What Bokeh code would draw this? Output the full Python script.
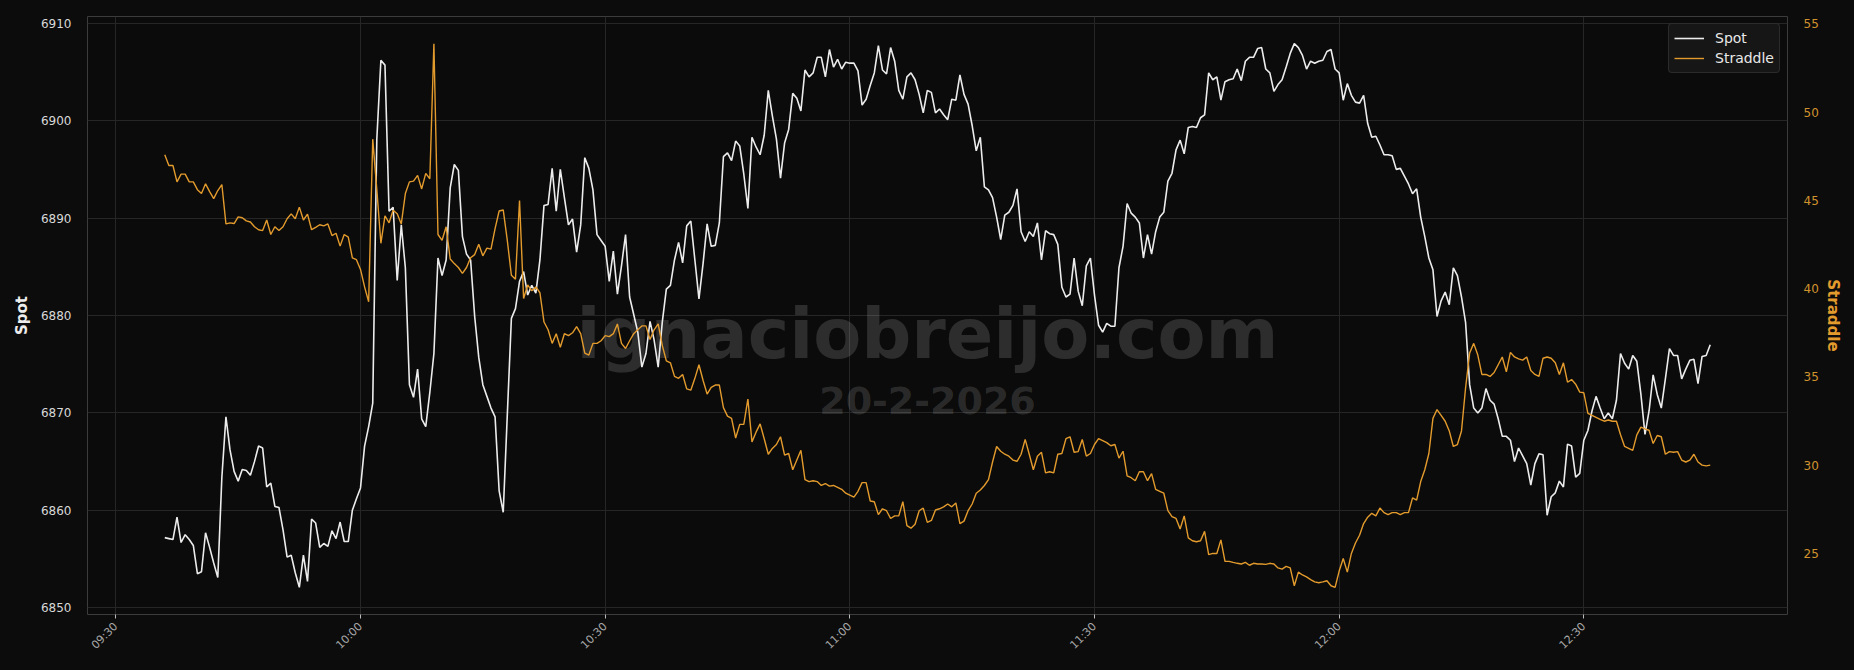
import math
import pandas as pd
from bokeh.plotting import figure
from bokeh.models import (Range1d, LinearAxis, FixedTicker, DatetimeTickFormatter,
                          Label, ColumnDataSource)
from bokeh.embed import file_html
from bokeh.resources import INLINE

# ---------------- data (30-second samples, 20-2-2026) ----------------
start_time = "2026-02-20 09:36:00"
step = "30s"

spot = [
    6857.2, 6857.1, 6857.0, 6859.3, 6856.7, 6857.5, 6857.0, 6856.4, 6853.5, 6853.7,
    6857.7, 6856.2, 6854.6, 6853.1, 6863.4, 6869.6, 6866.2, 6864.0, 6863.0, 6864.2,
    6864.1, 6863.6, 6865.0, 6866.6, 6866.4, 6862.4, 6862.8, 6860.4, 6860.3, 6858.0,
    6855.2, 6855.4, 6853.6, 6852.1, 6855.4, 6852.7, 6859.1, 6858.7, 6856.2, 6856.6,
    6856.3, 6857.9, 6857.1, 6858.8, 6856.8, 6856.8, 6860.0, 6861.2, 6862.3, 6866.6,
    6868.6, 6871.0, 6898.1, 6906.2, 6905.7, 6890.7, 6891.1, 6883.6, 6889.3, 6884.9,
    6872.9, 6871.6, 6874.5, 6869.4, 6868.6, 6872.1, 6876.1, 6885.9, 6884.1, 6885.7,
    6893.1, 6895.5, 6894.9, 6888.1, 6886.3, 6885.7, 6879.9, 6875.7, 6872.9, 6871.7,
    6870.5, 6869.6, 6862.0, 6859.8, 6869.8, 6879.7, 6880.7, 6883.5, 6884.5, 6882.1,
    6883.1, 6882.3, 6885.7, 6891.3, 6891.4, 6895.1, 6890.7, 6895.0, 6892.1, 6889.3,
    6889.9, 6886.5, 6889.3, 6896.2, 6895.1, 6892.9, 6888.3, 6887.7, 6887.1, 6883.5,
    6886.6, 6882.2, 6885.1, 6888.3, 6881.9, 6880.1, 6878.3, 6874.7, 6876.1, 6879.4,
    6877.5, 6874.7, 6879.3, 6882.7, 6883.1, 6885.7, 6887.5,
    6885.4, 6889.2, 6889.7, 6885.7, 6881.7, 6885.3, 6889.4, 6887.1, 6887.2, 6889.5,
    6896.3, 6896.7, 6895.9, 6897.9, 6897.4, 6894.5, 6891.0, 6898.3, 6897.3, 6896.5,
    6898.5, 6903.1, 6900.5, 6898.1, 6894.1, 6897.7, 6899.1, 6902.8, 6902.3, 6901.0,
    6905.2, 6904.5, 6904.9, 6906.5, 6906.5, 6904.5, 6907.3, 6905.5, 6906.3, 6905.3,
    6906.0, 6905.9, 6905.9, 6905.1, 6901.6, 6902.2, 6903.6, 6904.9, 6907.7, 6905.2,
    6904.8, 6907.5, 6906.1, 6903.1, 6902.2, 6904.5, 6904.9, 6904.2, 6902.7, 6900.8,
    6903.1, 6902.9, 6900.8, 6901.2,
    6900.6, 6900.1, 6902.2, 6902.1, 6904.7, 6902.7, 6901.7, 6899.5, 6896.9, 6898.3,
    6893.2, 6892.9, 6892.1, 6890.1, 6887.8, 6890.3, 6890.6, 6891.3, 6893.0, 6888.6,
    6887.6, 6888.6, 6888.1, 6889.5, 6885.7, 6888.7, 6888.4, 6888.3, 6887.3, 6882.9,
    6881.9, 6882.2, 6885.9, 6882.5, 6881.0, 6885.1, 6885.9, 6882.1, 6879.0, 6878.3,
    6879.2, 6878.9, 6878.9, 6884.9, 6887.1, 6891.5, 6890.5, 6890.1, 6889.5, 6885.9,
    6888.3, 6886.3, 6888.6, 6890.1, 6890.6, 6893.8, 6894.6, 6897.0, 6898.0, 6896.6,
    6899.3, 6899.4, 6899.3, 6900.3,
    6900.6, 6904.9, 6904.2, 6904.5, 6902.1, 6904.0, 6904.2, 6904.3, 6905.3, 6904.1,
    6906.1, 6906.5, 6906.5, 6907.4, 6907.5, 6905.3, 6904.9, 6903.0, 6903.7, 6904.2,
    6905.5, 6906.9, 6907.9, 6907.5, 6906.7, 6905.3, 6906.1, 6905.9, 6906.1, 6906.2,
    6907.1, 6907.3, 6905.3, 6904.9, 6902.1, 6903.8, 6902.6, 6901.9, 6901.8, 6902.6,
    6899.7, 6898.3, 6898.4, 6897.5, 6896.5, 6896.5, 6896.4, 6895.0, 6895.1, 6894.3,
    6893.5, 6892.5, 6893.0, 6890.1, 6888.1, 6885.9, 6884.7, 6879.9, 6881.5, 6882.4,
    6881.1, 6884.9, 6884.1, 6881.9,
    6879.3, 6872.9, 6870.5, 6870.0, 6870.5, 6872.5, 6871.3, 6870.9, 6869.4, 6867.6,
    6867.6, 6867.2, 6865.0, 6866.4, 6865.6, 6864.8, 6862.6, 6864.8, 6865.8, 6865.7,
    6859.5, 6861.4, 6861.8, 6863.0, 6862.4, 6866.8, 6866.6, 6863.4, 6863.8, 6867.2,
    6868.2, 6870.2, 6871.7, 6870.5, 6869.4, 6870.0, 6869.4, 6871.3, 6876.1, 6875.1,
    6874.5, 6875.9, 6875.3, 6871.9, 6867.8, 6870.2, 6873.9, 6871.9, 6870.5, 6873.5,
    6876.6, 6875.9, 6875.9, 6873.5, 6874.5, 6875.4, 6875.5, 6873.0, 6875.8, 6875.9,
    6877.0,
]

straddle = [
    47.59, 46.98, 46.98, 46.05, 46.49, 46.49, 46.05, 46.05, 45.61, 45.39,
    45.94, 45.50, 45.10, 45.56, 45.90, 43.67, 43.73, 43.69, 44.07, 44.02,
    43.84, 43.78, 43.51, 43.34, 43.29, 43.89, 43.07, 43.51, 43.29, 43.51,
    43.96, 44.24, 43.96, 44.62, 43.89, 44.22, 43.34, 43.47, 43.62, 43.56,
    43.67, 43.01, 43.14, 42.41, 43.07, 42.92, 41.75, 41.64, 41.09, 40.10,
    39.26, 48.47, 45.61, 42.57, 44.13, 43.73, 44.44, 44.24, 43.67, 45.39,
    46.05, 46.09, 46.42, 45.65, 46.53, 46.23, 53.88, 43.07, 42.74, 43.51,
    41.68, 41.42, 41.20, 40.87, 41.20, 41.75, 41.93, 42.52, 41.86, 42.30,
    42.24, 43.40, 44.40, 44.46, 42.74, 40.76, 40.54, 44.99, 39.44, 40.21,
    39.88, 40.10, 39.77, 38.11, 37.67, 36.90, 37.45, 36.68, 37.45, 37.34,
    37.50, 37.85, 37.45, 36.35, 36.24, 36.90, 36.90, 37.05, 37.34, 37.28,
    37.45, 38.00, 36.90, 36.61, 37.05, 37.45, 37.67, 37.89, 37.89, 37.12,
    37.67, 38.00, 36.79, 35.91, 35.80, 35.03, 34.92,
    35.14, 34.32, 34.25, 34.92, 35.69, 34.81, 34.03, 34.41, 34.54, 34.54,
    33.26, 32.78, 32.65, 31.54, 32.31, 32.31, 33.75, 31.32, 31.87, 32.34,
    31.50, 30.62, 30.95, 31.17, 31.61, 30.57, 30.66, 29.74, 30.29, 30.84,
    29.18, 29.07, 29.12, 29.07, 28.85, 28.96, 28.81, 28.85, 28.74, 28.63,
    28.41, 28.30, 28.19, 28.52, 29.01, 29.01, 27.97, 27.93, 27.20, 27.53,
    27.42, 26.98, 27.13, 27.13, 27.93, 26.58, 26.43, 26.65, 27.42, 27.57,
    26.76, 26.87, 27.46, 27.53,
    27.64, 27.80, 27.64, 27.86, 26.69, 26.83, 27.42, 27.80, 28.41, 28.59,
    28.85, 29.18, 30.18, 31.06, 30.79, 30.62, 30.51, 30.29, 30.22, 30.62,
    31.46, 30.62, 29.74, 30.51, 30.73, 29.56, 29.63, 29.56, 30.62, 30.66,
    31.50, 31.61, 30.73, 30.77, 31.46, 30.51, 30.66, 31.17, 31.50, 31.39,
    31.28, 31.10, 31.17, 30.40, 30.79, 29.40, 29.29, 29.12, 29.63, 29.63,
    29.12, 29.52, 28.63, 28.52, 28.41, 27.42, 27.09, 26.98, 26.38, 27.13,
    25.88, 25.72, 25.66, 25.72,
    26.25, 24.93, 25.00, 25.00, 25.77, 24.55, 24.55, 24.49, 24.44, 24.40,
    24.49, 24.33, 24.44, 24.40, 24.40, 24.38, 24.44, 24.40, 24.18, 24.11,
    24.27, 24.18, 23.17, 23.94, 23.78, 23.67, 23.52, 23.39, 23.34, 23.39,
    23.45, 23.17, 23.08, 24.00, 24.71, 23.94, 25.00, 25.59, 26.03, 26.69,
    27.05, 27.27, 27.13, 27.57, 27.31, 27.20, 27.31, 27.31, 27.20, 27.31,
    27.31, 28.15, 28.02, 29.07, 29.74, 30.66, 32.65, 33.15, 32.82, 32.49,
    31.94, 31.06, 31.17, 31.94,
    34.37, 36.35, 36.90, 36.24, 35.14, 35.14, 35.03, 35.25, 35.69, 36.13,
    35.29, 36.39, 36.13, 36.02, 35.95, 36.13, 35.36, 35.14, 35.03, 36.06,
    36.13, 36.06, 35.80, 35.14, 35.80, 34.70, 34.85, 34.59, 34.14, 34.10,
    32.93, 32.82, 32.71, 32.60, 32.49, 32.56, 32.49, 32.49, 31.72, 31.06,
    30.95, 30.84, 31.72, 32.16, 32.05, 31.98, 31.23, 31.68, 31.61, 30.62,
    30.77, 30.73, 30.77, 30.29, 30.18, 30.29, 30.62, 30.18, 30.00, 29.96,
    30.00,
]

x_tick_times = ["09:30", "10:00", "10:30", "11:00", "11:30", "12:00", "12:30"]
spot_ticks = [6850, 6860, 6870, 6880, 6890, 6900, 6910]
straddle_ticks = [25, 30, 35, 40, 45, 50, 55]
watermark = "ignaciobreijo.com"
date_text = "20-2-2026"

# ---------------- build ----------------
t_spot = pd.date_range(start_time, periods=len(spot), freq=step)
t_str = pd.date_range(start_time, periods=len(straddle), freq=step)
src_spot = ColumnDataSource(dict(t=t_spot, v=spot))
src_str = ColumnDataSource(dict(t=t_str, v=straddle))

def padded(lo, hi, frac=0.05):
    d = (hi - lo) * frac
    return lo - d, hi + d

t0, t1 = t_spot[0], max(t_spot[-1], t_str[-1])
xs, xe = padded(t0, t1)
ys, ye = padded(min(spot), max(spot))
ss, se = padded(min(straddle), max(straddle))

BG = "#0b0b0b"
FONT = "DejaVu Sans"
WHITE = "#ececec"
ORANGE = "#e39b2d"

p = figure(width=1854, height=670, output_backend="svg", toolbar_location=None,
           x_axis_type="datetime", x_range=Range1d(xs, xe), y_range=Range1d(ys, ye),
           min_border_left=87, min_border_right=67, min_border_top=16, min_border_bottom=56)
p.extra_y_ranges = {"straddle": Range1d(ss, se)}

p.background_fill_color = BG
p.border_fill_color = "#0c0c0c"
p.outline_line_color = "#3c3c3c"
p.outline_line_width = 1

p.xgrid.grid_line_color = "#262626"
p.ygrid.grid_line_color = "#262626"
p.xgrid.grid_line_width = 1
p.ygrid.grid_line_width = 1

# x axis
tick_ms = [pd.Timestamp(f"2026-02-20 {s}").value // 10**6 for s in x_tick_times]
xa = p.xaxis[0]
xa.ticker = FixedTicker(ticks=tick_ms)
fmt = "%H:%M"
xa.formatter = DatetimeTickFormatter(minutes=fmt, hourmin=fmt, hours=fmt, minsec=fmt,
                                     seconds=fmt, days=fmt)
xa.major_label_orientation = math.pi / 4
xa.major_label_text_color = "#a8a8a8"
xa.major_label_text_font = FONT
xa.major_label_text_font_size = "11px"
xa.major_label_standoff = 6
xa.axis_line_color = None
xa.major_tick_line_color = "#bbbbbb"
xa.major_tick_out = 4
xa.major_tick_in = 0
xa.minor_tick_line_color = None

# left axis
ya = p.yaxis[0]
ya.ticker = FixedTicker(ticks=spot_ticks)
ya.axis_label = "Spot"
ya.axis_label_text_color = WHITE
ya.axis_label_text_font = FONT
ya.axis_label_text_font_style = "bold"
ya.axis_label_text_font_size = "15px"
ya.axis_label_standoff = 7
ya.major_label_text_color = "#d8d8d8"
ya.major_label_text_font = FONT
ya.major_label_text_font_size = "12px"
ya.major_label_standoff = 10
ya.axis_line_color = None
ya.major_tick_line_color = None
ya.minor_tick_line_color = None

# right axis
ra = LinearAxis(y_range_name="straddle", ticker=FixedTicker(ticks=straddle_ticks))
ra.axis_label = "Straddle"
ra.axis_label_text_color = ORANGE
ra.axis_label_text_font = FONT
ra.axis_label_text_font_style = "bold"
ra.axis_label_text_font_size = "15px"
ra.axis_label_standoff = 2
ra.major_label_text_color = "#d0922c"
ra.major_label_text_font = FONT
ra.major_label_text_font_size = "12px"
ra.major_label_standoff = 10
ra.axis_line_color = None
ra.major_tick_line_color = None
ra.minor_tick_line_color = None
p.add_layout(ra, "right")

# watermark (behind lines), centred on the figure
p.add_layout(Label(x=840, y=281, x_units="screen", y_units="screen", text=watermark,
                   text_font=FONT, text_font_style="bold", text_font_size="70px",
                   text_color="#ffffff", text_alpha=0.14, text_align="center",
                   text_baseline="middle", level="underlay"))
p.add_layout(Label(x=840, y=214, x_units="screen", y_units="screen", text=date_text,
                   text_font=FONT, text_font_style="bold", text_font_size="38px",
                   text_color="#ffffff", text_alpha=0.14, text_align="center",
                   text_baseline="middle", level="underlay"))

# lines
p.line("t", "v", source=src_spot, color=WHITE, line_width=1.6, legend_label="Spot")
p.line("t", "v", source=src_str, color=ORANGE, line_width=1.4, legend_label="Straddle",
       y_range_name="straddle")

lg = p.legend[0]
lg.location = "top_right"
lg.background_fill_color = "#171717"
lg.background_fill_alpha = 0.95
lg.border_line_color = "#404040"
lg.border_line_width = 1
lg.label_text_color = "#e8e8e8"
lg.label_text_font = FONT
lg.label_text_font_size = "14px"
lg.glyph_width = 30
lg.glyph_height = 18
lg.label_height = 18
lg.label_standoff = 11
lg.padding = 5
lg.spacing = 2
lg.margin = 7
try:
    lg.border_radius = 4
except Exception:
    pass

html = file_html(p, INLINE, title="Spot vs Straddle")
style = ("<style>html,body{margin:0 !important;padding:0 !important;"
         "background-color:#0c0c0c !important;overflow:hidden;}</style>")
html = html.replace("</head>", style + "</head>", 1)
open("out.html", "w").write(html)
